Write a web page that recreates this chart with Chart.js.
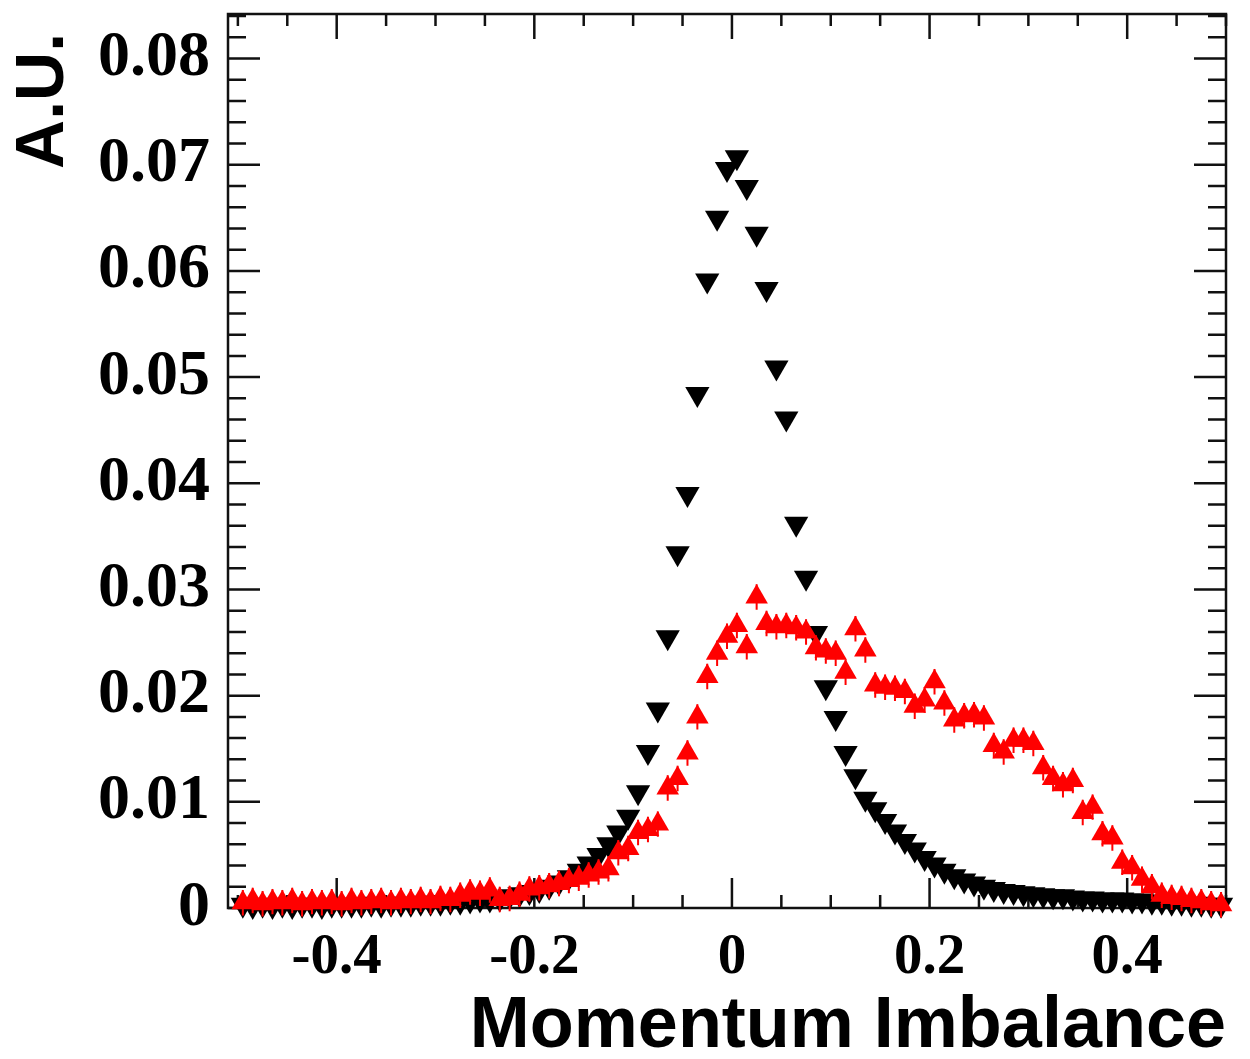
<!DOCTYPE html>
<html>
<head>
<meta charset="utf-8">
<script src="https://cdn.jsdelivr.net/npm/chart.js@4.4.1/dist/chart.umd.min.js"></script>
<style>
  html, body { margin: 0; padding: 0; background: #fff; }
  #wrap { width: 1250px; height: 1059px; }
</style>
</head>
<body>
<div id="wrap"><canvas id="imbalance"></canvas></div>
<script>
// bin centres (100 bins, width 0.01)
const binCenters = [
  -0.495, -0.485, -0.475, -0.465, -0.455, -0.445, -0.435, -0.425, -0.415, -0.405,
  -0.395, -0.385, -0.375, -0.365, -0.355, -0.345, -0.335, -0.325, -0.315, -0.305,
  -0.295, -0.285, -0.275, -0.265, -0.255, -0.245, -0.235, -0.225, -0.215, -0.205,
  -0.195, -0.185, -0.175, -0.165, -0.155, -0.145, -0.135, -0.125, -0.115, -0.105,
  -0.095, -0.085, -0.075, -0.065, -0.055, -0.045, -0.035, -0.025, -0.015, -0.005,
  0.005, 0.015, 0.025, 0.035, 0.045, 0.055, 0.065, 0.075, 0.085, 0.095,
  0.105, 0.115, 0.125, 0.135, 0.145, 0.155, 0.165, 0.175, 0.185, 0.195,
  0.205, 0.215, 0.225, 0.235, 0.245, 0.255, 0.265, 0.275, 0.285, 0.295,
  0.305, 0.315, 0.325, 0.335, 0.345, 0.355, 0.365, 0.375, 0.385, 0.395,
  0.405, 0.415, 0.425, 0.435, 0.445, 0.455, 0.465, 0.475, 0.485, 0.495
];

// black, downward triangles
const blackValues = [
  0.0003, 0.0002, 0.0003, 0.0002, 0.0003, 0.0002, 0.0003, 0.0003, 0.0002, 0.0003,
  0.0003, 0.0003, 0.0003, 0.0004, 0.0003, 0.0004, 0.0004, 0.0004, 0.0005, 0.0005,
  0.0005, 0.0006, 0.0006, 0.0007, 0.0008, 0.0008, 0.0009, 0.0011, 0.0013, 0.0015,
  0.0017, 0.0020, 0.0024, 0.0029, 0.0035, 0.0042, 0.0050, 0.0060, 0.0071, 0.0086,
  0.0109, 0.0147, 0.0187, 0.0255, 0.0334, 0.0390, 0.0484, 0.0591, 0.0650, 0.0696,
  0.0707, 0.0679, 0.0635, 0.0583, 0.0509, 0.0461, 0.0362, 0.0311, 0.0259, 0.0208,
  0.0179, 0.0146, 0.0124, 0.0103, 0.0093, 0.0082, 0.0072, 0.0063, 0.0055, 0.0047,
  0.0041, 0.0035, 0.0030, 0.0026, 0.0023, 0.0020, 0.0018, 0.0016, 0.0015, 0.0014,
  0.0013, 0.0012, 0.0011, 0.0011, 0.0010, 0.0009, 0.0009, 0.0008, 0.0008, 0.0008,
  0.0007, 0.0007, 0.0006, 0.0006, 0.0005, 0.0005, 0.0004, 0.0004, 0.0003, 0.0003
];

// red, upward triangles with error bars
const redValues = [
  0.0005, 0.0007, 0.0004, 0.0006, 0.0005, 0.0007, 0.0004, 0.0006, 0.0005, 0.0006,
  0.0004, 0.0007, 0.0005, 0.0006, 0.0007, 0.0005, 0.0007, 0.0006, 0.0008, 0.0006,
  0.0009, 0.0008, 0.0012, 0.0015, 0.0014, 0.0017, 0.0008, 0.0009, 0.0013, 0.0018,
  0.0019, 0.0021, 0.0023, 0.0026, 0.0028, 0.0031, 0.0034, 0.0037, 0.0052, 0.0056,
  0.0071, 0.0074, 0.0079, 0.0113, 0.0122, 0.0146, 0.0180, 0.0218, 0.0240, 0.0256,
  0.0266, 0.0246, 0.0293, 0.0268, 0.0265, 0.0266, 0.0264, 0.0260, 0.0245, 0.0242,
  0.0240, 0.0222, 0.0263, 0.0243, 0.0210, 0.0208, 0.0207, 0.0204, 0.0190, 0.0196,
  0.0213, 0.0193, 0.0177, 0.0181, 0.0182, 0.0179, 0.0153, 0.0147, 0.0158, 0.0158,
  0.0155, 0.0132, 0.0122, 0.0116, 0.0120, 0.0090, 0.0095, 0.0070, 0.0066, 0.0043,
  0.0038, 0.0027, 0.0020, 0.0012, 0.0010, 0.0009, 0.0007, 0.0006, 0.0004, 0.0003
];
const redError = 0.0012;

const xTickValues = [-0.4, -0.2, 0, 0.2, 0.4];
const xTickLabels = ['-0.4', '-0.2', '0', '0.2', '0.4'];
const yTickValues = [0, 0.01, 0.02, 0.03, 0.04, 0.05, 0.06, 0.07, 0.08];
const yTickLabels = ['0', '0.01', '0.02', '0.03', '0.04', '0.05', '0.06', '0.07', '0.08'];

const X_MIN = -0.51, X_MAX = 0.5, Y_MIN = 0, Y_MAX = 0.0842;

function toPoints(values) {
  return values.map((v, i) => ({ x: binCenters[i], y: v }));
}

// frame with inward ticks on all four sides, ROOT style
const framePlugin = {
  id: 'frame',
  beforeDatasetsDraw(chart) {
    const { ctx, chartArea: a, scales: { x, y } } = chart;
    ctx.save();
    ctx.strokeStyle = '#111';
    ctx.lineWidth = 2.5;
    ctx.strokeRect(a.left, a.top, a.right - a.left, a.bottom - a.top);
    ctx.beginPath();
    for (let k = -10; k <= 10; k++) {
      const px = x.getPixelForValue(k * 0.05);
      const major = k % 4 === 0 && Math.abs(k) !== 10;
      const lb = major ? 30 : 13, lt = major ? 25 : 12;
      ctx.moveTo(px, a.bottom); ctx.lineTo(px, a.bottom - lb);
      ctx.moveTo(px, a.top); ctx.lineTo(px, a.top + lt);
    }
    for (let k = 0; k <= 42; k++) {
      const py = y.getPixelForValue(k * 0.002);
      if (py < a.top + 1) continue;
      const len = k % 5 === 0 ? 32 : 18;
      ctx.moveTo(a.left, py); ctx.lineTo(a.left + len, py);
      ctx.moveTo(a.right, py); ctx.lineTo(a.right - len, py);
    }
    ctx.stroke();
    ctx.restore();
  },
  afterDatasetsDraw(chart) {
    const { ctx, scales: { x, y } } = chart;
    ctx.save();
    ctx.strokeStyle = '#ff0000';
    ctx.lineWidth = 2;
    ctx.beginPath();
    redValues.forEach((v, i) => {
      const px = x.getPixelForValue(binCenters[i]);
      ctx.moveTo(px, y.getPixelForValue(v - redError));
      ctx.lineTo(px, y.getPixelForValue(v + redError));
    });
    ctx.stroke();
    ctx.restore();
  }
};

new Chart(document.getElementById('imbalance'), {
  type: 'scatter',
  data: {
    datasets: [
      {
        label: 'red',
        data: toPoints(redValues),
        pointStyle: 'triangle',
        pointRadius: 13,
        pointBackgroundColor: '#ff0000',
        pointBorderColor: '#ff0000',
        pointBorderWidth: 0,
        order: 1,
        clip: false
      },
      {
        label: 'black',
        data: toPoints(blackValues),
        pointStyle: 'triangle',
        pointRotation: 180,
        pointRadius: 14,
        pointBackgroundColor: '#000',
        pointBorderColor: '#000',
        pointBorderWidth: 0,
        order: 2,
        clip: false
      }
    ]
  },
  options: {
    responsive: true,
    maintainAspectRatio: false,
    animation: false,
    layout: { padding: { top: 13, right: 24, left: 0, bottom: 0 } },
    plugins: { legend: { display: false }, tooltip: { enabled: false } },
    scales: {
      x: {
        type: 'linear',
        min: X_MIN,
        max: X_MAX,
        grid: { display: false, drawTicks: false },
        border: { display: false },
        afterBuildTicks: s => { s.ticks = xTickValues.map(v => ({ value: v })); },
        afterFit: s => { s.height = 151; s.paddingLeft = 0; s.paddingRight = 0; },
        ticks: {
          padding: 16,
          maxRotation: 0,
          autoSkip: false,
          color: '#000',
          font: { family: 'Liberation Serif', weight: 'bold', size: 57 },
          callback: (v, i) => xTickLabels[i]
        },
        title: {
          display: true,
          text: 'Momentum Imbalance',
          align: 'end',
          color: '#000',
          padding: { top: 0, bottom: -4 },
          font: { family: 'Liberation Sans', weight: 'bold', size: 72, lineHeight: 1 }
        }
      },
      y: {
        type: 'linear',
        min: Y_MIN,
        max: Y_MAX,
        grid: { display: false, drawTicks: false },
        border: { display: false },
        afterBuildTicks: s => { s.ticks = yTickValues.map(v => ({ value: v })); },
        afterFit: s => { s.width = 228; s.paddingTop = 0; s.paddingBottom = 0; },
        ticks: {
          padding: 18,
          autoSkip: false,
          color: '#000',
          font: { family: 'Liberation Serif', weight: 'bold', size: 64 },
          callback: (v, i) => yTickLabels[i]
        },
        title: {
          display: true,
          text: 'A.U. ',
          align: 'end',
          color: '#000',
          padding: { top: 10, bottom: 0 },
          font: { family: 'Liberation Sans', weight: 'bold', size: 68, lineHeight: 1 }
        }
      }
    }
  },
  plugins: [framePlugin]
});
</script>
</body>
</html>
